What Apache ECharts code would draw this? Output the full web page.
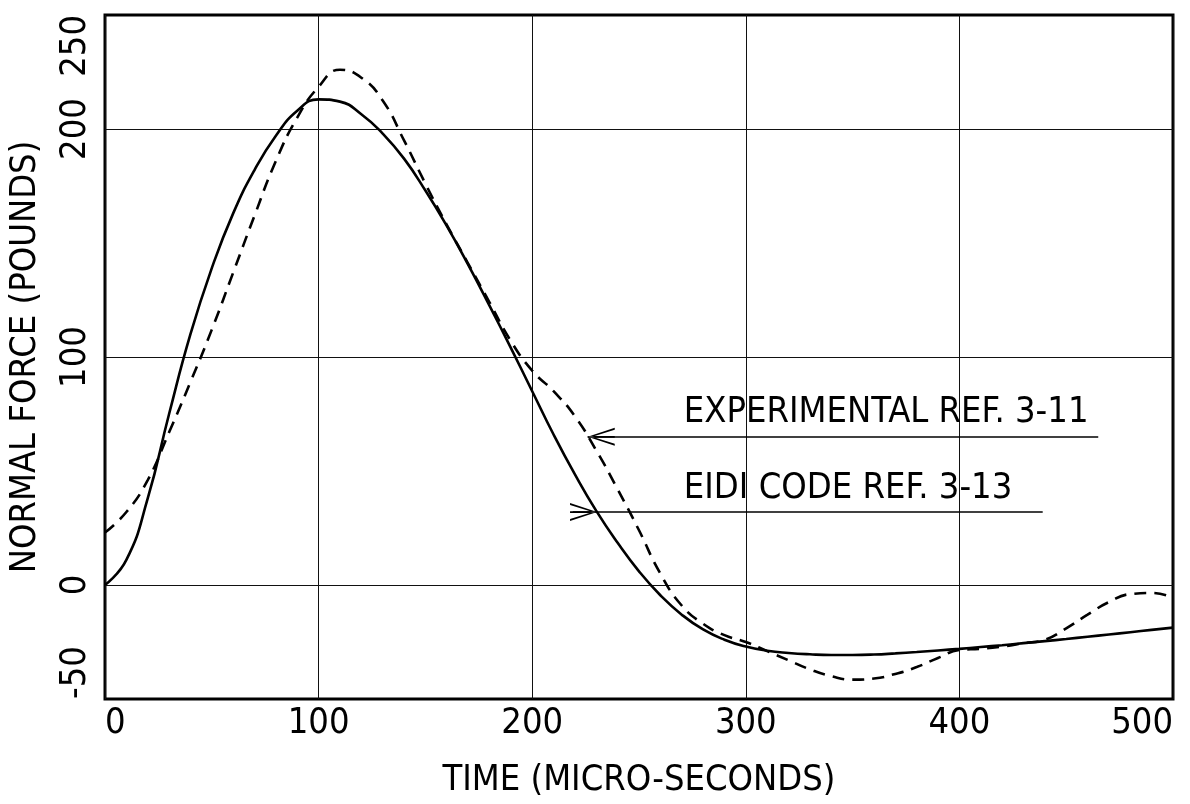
<!DOCTYPE html>
<html>
<head>
<meta charset="utf-8">
<script src="https://cdn.jsdelivr.net/npm/echarts@6/dist/echarts.min.js"></script>
<style>
  html, body { margin: 0; padding: 0; background: #ffffff; }
  #chart { width: 1190px; height: 804px; }
</style>
</head>
<body>
<div id="chart"></div>
<script>
// Normal force vs. time: EIDI code prediction (solid) and experiment (dashed)
const FONT = '"Liberation Sans Narrow", "Arial Narrow", "DejaVu Sans Condensed", "Liberation Sans", sans-serif';

const xTicks = [0, 100, 200, 300, 400, 500];
const yTickLabels = [-50, 0, 100, 200, 250];

const eidiTime = [0, 10, 20, 30, 40, 50, 60, 70, 80, 90, 100, 110, 120, 130, 140, 150, 160, 170, 180, 190, 200, 210, 220, 230, 240, 250, 260, 270, 280, 290, 300, 310, 320, 330, 340, 350, 360, 370, 380, 390, 400, 410, 420, 430, 440, 450, 460, 470, 480, 490, 500];
const eidiForce = [0, 11, 38, 75, 110, 139, 163, 182, 197, 208, 213, 212, 206.5, 198, 187, 173, 157.5, 140.5, 122.5, 104, 85, 66, 48.5, 32.5, 18.5, 6, -4.5, -13, -19.5, -24, -27, -28.8, -29.8, -30.4, -30.7, -30.7, -30.5, -30, -29.4, -28.7, -28, -27.2, -26.4, -25.5, -24.6, -23.7, -22.7, -21.7, -20.7, -19.7, -18.7];

const expTime = [0, 10, 20, 30, 40, 50, 60, 70, 80, 90, 100, 110, 120, 130, 140, 150, 160, 170, 180, 190, 200, 210, 220, 230, 240, 250, 260, 270, 280, 290, 300, 310, 320, 330, 340, 350, 360, 370, 380, 390, 400, 410, 420, 430, 440, 450, 460, 470, 480, 490, 500];
const expForce = [23, 32, 46, 67, 89, 112, 137, 162, 186, 205, 218.5, 226, 222.5, 212.5, 195, 176, 158, 141, 124, 107, 94, 85, 74, 59, 42, 24, 5, -9, -17, -22, -25, -29, -33, -37, -40, -41.5, -41, -39, -36, -32, -28.5, -28, -27, -25.5, -24, -19, -13, -7.5, -4, -3.5, -5.5];

const expLabel = 'EXPERIMENTAL REF. 3-11';
const eidiLabel = 'EIDI CODE REF. 3-13';
const expLevel = 65;      // force level of the experimental leader line
const eidiLevel = 32;     // force level of the EIDI leader line
const expLineEnd = 465;
const eidiLineStart = 219;
const eidiLineEnd = 439;
const labelStart = 271;
const labelLift = 10.4;

const pairs = (xs, ys) => xs.map((x, i) => [x, ys[i]]);

// time at which a falling curve first drops to the given level (after the peak)
function fallCrossing(xs, ys, level) {
  for (let i = 1; i < xs.length; i++) {
    if (xs[i - 1] > 140 && ys[i - 1] >= level && ys[i] < level) {
      const f = (ys[i - 1] - level) / (ys[i - 1] - ys[i]);
      return xs[i - 1] + f * (xs[i] - xs[i - 1]);
    }
  }
  return xs[0];
}

const expTip = fallCrossing(expTime, expForce, expLevel);
const eidiTip = fallCrossing(eidiTime, eidiForce, eidiLevel);

// open arrowhead: two wings plus a short stem, tip at the top of the path
const ARROW = 'path://M10,0 L0,30 L2.2,30 L10,5 L17.8,30 L20,30 Z M9,0 L11,0 L11,30 L9,30 Z';
const arrowEnd = { symbol: ARROW, symbolSize: [18, 27], symbolOffset: [0, 13.5] };

const textStyle = { fontFamily: FONT, fontSize: 36, color: '#000' };

const chart = echarts.init(document.getElementById('chart'), null, { renderer: 'canvas' });

chart.setOption({
  backgroundColor: '#ffffff',
  animation: false,
  grid: {
    left: 104, right: 17, top: 15, bottom: 97,
    show: true, borderColor: '#000', borderWidth: 3, backgroundColor: 'transparent'
  },
  xAxis: {
    type: 'value',
    min: xTicks[0], max: xTicks[xTicks.length - 1], interval: 100,
    name: 'TIME (MICRO-SECONDS)',
    nameLocation: 'middle', nameGap: 64,
    nameTextStyle: textStyle,
    axisLine: { show: false },
    axisTick: { show: false },
    axisLabel: {
      ...textStyle, margin: 7,
      alignMinLabel: 'left', alignMaxLabel: 'right',
      formatter: v => xTicks.includes(v) ? String(v) : ''
    },
    splitLine: { show: true, lineStyle: { color: '#111', width: 1 } }
  },
  yAxis: {
    type: 'value',
    min: -50, max: 250, interval: 50,
    name: 'NORMAL FORCE (POUNDS)',
    nameLocation: 'middle', nameGap: 61,
    nameTextStyle: textStyle,
    axisLine: { show: false },
    axisTick: { show: false },
    axisLabel: {
      ...textStyle, margin: 11, rotate: 90,
      alignMinLabel: 'left', alignMaxLabel: 'right',
      formatter: v => yTickLabels.includes(v) ? String(v) : ''
    },
    splitLine: { show: true, lineStyle: { color: ['rgba(0,0,0,0)', '#111'], width: 1 } }
  },
  series: [
    {
      name: 'EIDI CODE',
      type: 'line',
      data: pairs(eidiTime, eidiForce),
      smooth: 0.5,
      symbol: 'none',
      lineStyle: { color: '#000', width: 2.6 },
      z: 3,
      markLine: {
        silent: true, animation: false,
        label: { show: false },
        lineStyle: { color: '#000', width: 1.6, type: 'solid' },
        data: [
          [
            { coord: [eidiLineStart, eidiLevel], symbol: 'none' },
            { coord: [eidiTip, eidiLevel], ...arrowEnd }
          ],
          [
            { coord: [eidiTip, eidiLevel], symbol: 'none' },
            { coord: [eidiLineEnd, eidiLevel], symbol: 'none' }
          ]
        ]
      },
      markPoint: {
        silent: true, animation: false,
        symbol: 'circle', symbolSize: 0,
        label: { show: true, position: 'right', distance: 0, formatter: '{b}', ...textStyle },
        data: [{ name: eidiLabel, coord: [labelStart, eidiLevel + labelLift] }]
      }
    },
    {
      name: 'EXPERIMENTAL',
      type: 'line',
      data: pairs(expTime, expForce),
      smooth: 0.5,
      symbol: 'none',
      lineStyle: { color: '#000', width: 2.6, type: [12, 8] },
      z: 3,
      markLine: {
        silent: true, animation: false,
        label: { show: false },
        lineStyle: { color: '#000', width: 1.6, type: 'solid' },
        data: [
          [
            { coord: [expTip, expLevel], ...arrowEnd },
            { coord: [expLineEnd, expLevel], symbol: 'none' }
          ]
        ]
      },
      markPoint: {
        silent: true, animation: false,
        symbol: 'circle', symbolSize: 0,
        label: { show: true, position: 'right', distance: 0, formatter: '{b}', ...textStyle },
        data: [{ name: expLabel, coord: [labelStart, expLevel + labelLift] }]
      }
    }
  ]
});
</script>
</body>
</html>
